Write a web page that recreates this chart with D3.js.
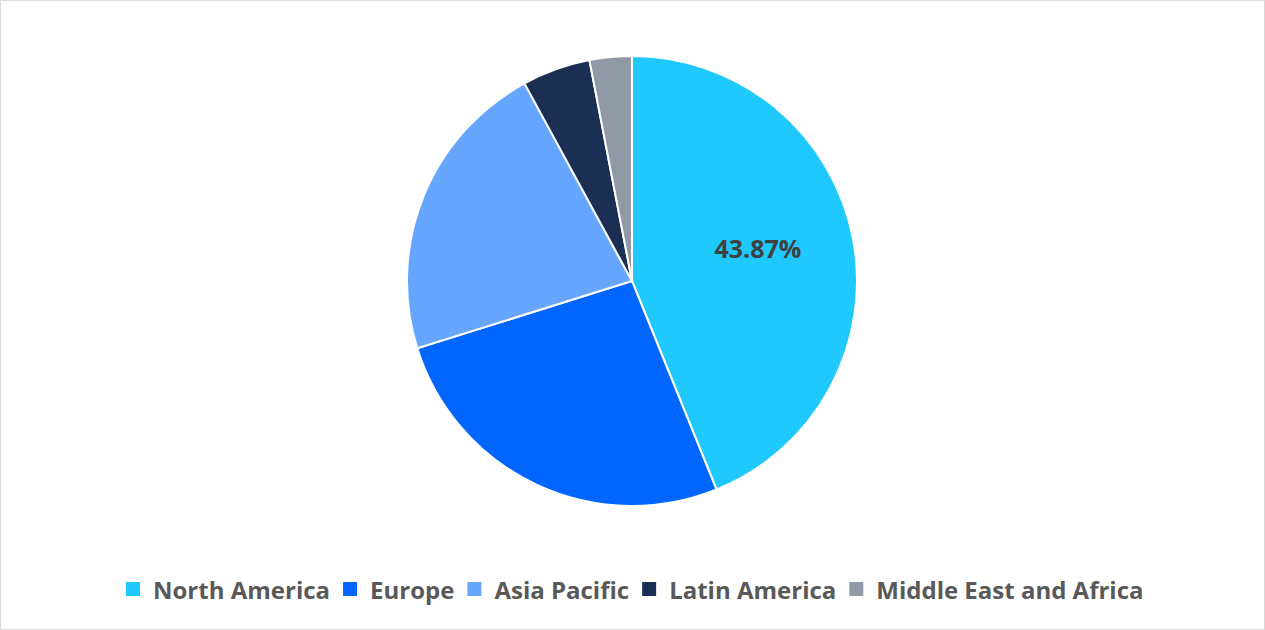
<!DOCTYPE html>
<html><head><meta charset="utf-8">
<script src="https://cdn.jsdelivr.net/npm/d3@7"></script>
<style>body{margin:0;background:#fff}svg{display:block}</style>
</head><body><svg id="c"></svg>
<script>
const categories = ["North America", "Europe", "Asia Pacific", "Latin America", "Middle East and Africa"];
const values = [43.87, 26.3, 21.9, 4.9, 3.03];
const colors = ["#1FC8FD", "#0066FF", "#66A6FF", "#1B2F55", "#9299A6"];

const width = 1265, height = 630;
const cx = 632, cy = 281, r = 225;

const svg = d3.select("#c").attr("width", width).attr("height", height);
svg.append("rect").attr("x", 0.5).attr("y", 0.5).attr("width", width - 1).attr("height", height - 1)
    .attr("fill", "#fff").attr("stroke", "#d9d9d9");

const pie = d3.pie().sort(null).value(d => d)(values);
const arc = d3.arc().innerRadius(0).outerRadius(r);

const g = svg.append("g").attr("transform", `translate(${cx},${cy})`);
g.selectAll("path").data(pie).join("path")
    .attr("d", arc)
    .attr("fill", (d, i) => colors[i])
    .attr("stroke", "#fff").attr("stroke-width", 2);

// only the largest slice is labelled
const labelArc = d3.arc().innerRadius(r * 0.57).outerRadius(r * 0.57);
const c0 = labelArc.centroid(pie[0]);
g.append("text").attr("x", c0[0]).attr("y", c0[1] - 5)
    .attr("text-anchor", "middle").attr("dominant-baseline", "middle")
    .attr("font-family", "Open Sans, sans-serif").attr("font-weight", "bold")
    .attr("font-size", 25).attr("fill", "#404040")
    .text(values[0].toFixed(2) + "%");

// legend
const leg = svg.append("g").attr("font-family", "Open Sans, sans-serif")
    .attr("font-weight", "bold").attr("font-size", 24).attr("fill", "#595959");
let x = 126;
categories.forEach((c, i) => {
    leg.append("rect").attr("x", x).attr("y", 582).attr("width", 14).attr("height", 14).attr("fill", colors[i]);
    const t = leg.append("text").attr("x", x + 27).attr("y", 599).text(c);
    x += 27 + t.node().getComputedTextLength() + 13;
});
</script></body></html>
